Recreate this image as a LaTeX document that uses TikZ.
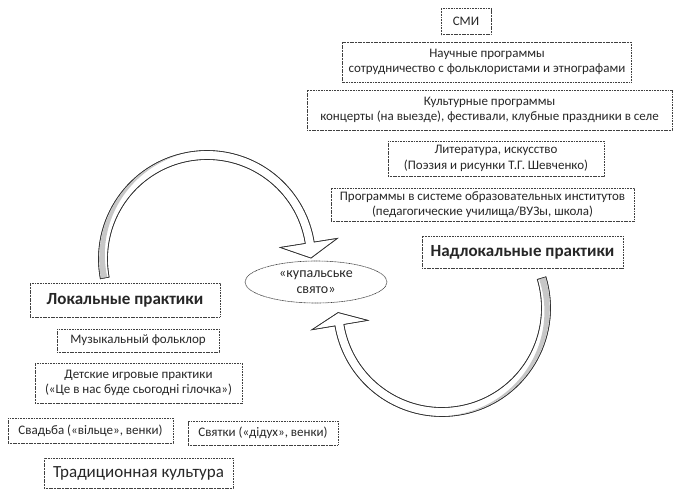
\documentclass[tikz,border=0pt]{standalone}
\usepackage{fontspec}
\setmainfont{Carlito}
\usetikzlibrary{calc,shapes.geometric}
\begin{document}
\begin{tikzpicture}[x=1pt,y=1pt,
  box/.style={draw=black!75, line width=0.6pt, dash pattern=on 1.1pt off 0.5pt,
    inner sep=0pt, align=center, font=\fontsize{13}{15.5}\selectfont, text=black!85},
  headbox/.style={box, font=\fontsize{17}{20}\bfseries\selectfont},
  bigbox/.style={box, font=\fontsize{17}{20}\selectfont},
  arrowbody/.style={draw=black!80, line width=0.6pt, fill=white, line join=miter},
  arrowshade/.style={fill=black!22}
]
\useasboundingbox (0,0) rectangle (673,-488);
\clip (0,0) rectangle (673,-488);

% upper right boxes
\node[box, minimum width=50, minimum height=26] (smi) at (466,-21.5) {СМИ};
\node[box, minimum width=289, minimum height=40] (nauch) at (487,-62) {Научные программы\\сотрудничество с фольклористами и этнографами};
\node[box, minimum width=365, minimum height=40] (kult) at (489.5,-110) {Культурные программы\\концерты (на выезде), фестивали, клубные праздники в селе};
\node[box, minimum width=216, minimum height=35] (lit) at (496,-158.5) {Литература, искусство\\(Поэзия и рисунки Т.Г. Шевченко)};
\node[box, minimum width=303, minimum height=33] (prog) at (482.5,-204.5) {Программы в системе образовательных институтов\\(педагогические училища/ВУЗы, школа)};
\node[headbox, minimum width=201, minimum height=32] (nadlok) at (522.5,-252) {Надлокальные практики};

% centre
\node[box, ellipse, minimum width=142, minimum height=42, font=\fontsize{14}{16}\selectfont] (kupala) at (316,-282) {«купальське\\свято»};

% lower left boxes
\node[headbox, minimum width=190, minimum height=34] (lokal) at (125,-300) {Локальные практики};
\node[box, minimum width=162, minimum height=23] (muz) at (138,-340.5) {Музыкальный фольклор};
\node[box, minimum width=207, minimum height=40] (det) at (138.5,-383) {Детские игровые практики\\(«Це в нас буде сьогодні гілочка»)};
\node[box, minimum width=165, minimum height=25] (svad) at (90.5,-430.5) {Свадьба («вільце», венки)};
\node[box, minimum width=150, minimum height=24] (svyat) at (263,-433) {Святки («дідух», венки)};
\node[bigbox, minimum width=189, minimum height=30] (trad) at (138.5,-473) {Традиционная культура};

% left curved arrow (local -> holiday)
\coordinate (cL) at (207,-259);
\path[arrowbody] ($(cL)+(190.5:108.5)$) arc[start angle=190.5,end angle=9,radius=108.5]
  -- ($(cL)+(9:132)$) -- ($(cL)+(0.5:104)$) -- ($(cL)+(9:74)$) -- ($(cL)+(9:99.5)$)
  arc[start angle=9,end angle=190.5,radius=99.5] -- cycle;
\fill[arrowshade] plot[domain=190.5:105,samples=40] ({207+107.8*cos(\x)},{-259+107.8*sin(\x)})
  -- plot[domain=105:190.5,samples=40] ({207+(107.8-6.5*(\x-105)/85.5)*cos(\x)},{-259+(107.8-6.5*(\x-105)/85.5)*sin(\x)}) -- cycle;
\draw[arrowbody, fill=none] ($(cL)+(190.5:108.5)$) arc[start angle=190.5,end angle=9,radius=108.5]
  -- ($(cL)+(9:132)$) -- ($(cL)+(0.5:104)$) -- ($(cL)+(9:74)$) -- ($(cL)+(9:99.5)$)
  arc[start angle=9,end angle=190.5,radius=99.5] -- cycle;

% right curved arrow (supralocal -> holiday)
\coordinate (cR) at (442,-308);
\path[arrowbody] ($(cR)+(16.7:108.5)$) arc[start angle=16.7,end angle=-170.5,radius=108.5]
  -- ($(cR)+(-170.5:132)$) -- ($(cR)+(-177.5:104)$) -- ($(cR)+(-170.5:75)$) -- ($(cR)+(-170.5:99.5)$)
  arc[start angle=-170.5,end angle=16.7,radius=99.5] -- cycle;
\fill[arrowshade] plot[domain=16.7:-85,samples=40] ({442+107.8*cos(\x)},{-308+107.8*sin(\x)})
  -- plot[domain=-85:16.7,samples=40] ({442+(107.8-6.5*(\x+85)/101.7)*cos(\x)},{-308+(107.8-6.5*(\x+85)/101.7)*sin(\x)}) -- cycle;
\draw[arrowbody, fill=none] ($(cR)+(16.7:108.5)$) arc[start angle=16.7,end angle=-170.5,radius=108.5]
  -- ($(cR)+(-170.5:132)$) -- ($(cR)+(-177.5:104)$) -- ($(cR)+(-170.5:75)$) -- ($(cR)+(-170.5:99.5)$)
  arc[start angle=-170.5,end angle=16.7,radius=99.5] -- cycle;
\end{tikzpicture}
\end{document}
